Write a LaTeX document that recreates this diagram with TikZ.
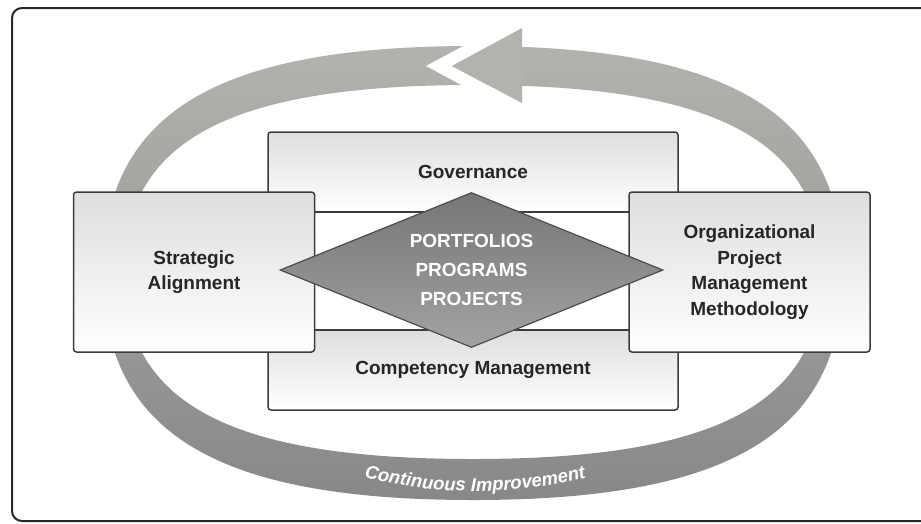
\documentclass[tikz,border=0pt]{standalone}
\usepackage{fontspec}
\setmainfont{Liberation Sans}
\usetikzlibrary{shapes.geometric,decorations.text,positioning}
\definecolor{ringtop}{RGB}{180,178,174}
\definecolor{ringbot}{RGB}{136,136,136}
\definecolor{framegray}{RGB}{40,40,40}
\definecolor{boxline}{RGB}{60,60,60}
\definecolor{boxtop}{RGB}{222,222,222}
\definecolor{dmdtop}{RGB}{118,118,118}
\definecolor{dmdbot}{RGB}{162,162,162}
\newcommand{\lblfont}{\fontsize{19}{25.5}\selectfont\bfseries}
\newcommand{\dmdfont}{\fontsize{19}{29}\selectfont\bfseries}
\newcommand{\loopfont}{\fontsize{18.5}{18.5}\selectfont\bfseries\itshape}
% boxy loop: centre (#1,#2), half axes #3 and #4
\newcommand{\ringloop}[4]{(#1+#3,#2) .. controls (#1+#3,#2+0.7*#4) and (#1+0.7*#3,#2+#4) .. (#1,#2+#4)
  .. controls (#1-0.7*#3,#2+#4) and (#1-#3,#2+0.7*#4) .. (#1-#3,#2)
  .. controls (#1-#3,#2-0.7*#4) and (#1-0.7*#3,#2-#4) .. (#1,#2-#4)
  .. controls (#1+0.7*#3,#2-#4) and (#1+#3,#2-0.7*#4) .. (#1+#3,#2) -- cycle}
\tikzset{
    framesty/.style={draw=framegray, line width=2pt, rounded corners=10pt},
    ringsty/.style={top color=ringtop, bottom color=ringbot, even odd rule},
    headsty/.style={fill=ringtop},
    gapsty/.style={fill=white},
    panelsty/.style={draw=boxline, line width=1.5pt, rounded corners=3pt, top color=boxtop, bottom color=white,
                     minimum width=410pt, minimum height=80pt, inner sep=0pt, font=\lblfont, text=black!85},
    stripsty/.style={draw=boxline, line width=1.5pt, fill=white, minimum width=410pt, minimum height=118pt},
    sidesty/.style={draw=boxline, line width=1.5pt, rounded corners=3pt, top color=boxtop, bottom color=white,
                    minimum width=241pt, minimum height=160pt, font=\lblfont, text=black!85, align=center},
    dmdsty/.style={diamond, draw=black!70, line width=1.2pt, top color=dmdtop, bottom color=dmdbot,
                   minimum width=383pt, minimum height=155pt, aspect=2.47, inner sep=0pt,
                   font=\dmdfont, text=white, align=center},
}

\begin{document}
\begin{tikzpicture}[x=1pt, y=-1pt]
  \useasboundingbox (0,0) rectangle (921,523);
  \draw[framesty] (12,8) rectangle (940,521);

  % improvement loop
  \shade[ringsty] \ringloop{473}{273}{370}{227} \ringloop{473}{272}{349}{187};
  \fill[gapsty] (426,66) -- (467,44) -- (493,44) -- (452,66) -- (493,88) -- (467,88) -- cycle;
  \fill[headsty] (522,28) -- (452,66) -- (522,103) -- cycle;
  \path[decorate, decoration={text along path, text color=white, text align=center,
        text={|\loopfont|Continuous Improvement}}]
        (330,468) .. controls (427,499) and (523,499) .. (620,468);

  % centre stack
  \node[panelsty] (gov) at (473,172) {Governance};
  \node[stripsty, below=-1.5pt of gov] (strip) {};
  \node[panelsty, below=-1.5pt of strip] (comp) {Competency Management};

  \node[sidesty] (align) at (194,272) {Strategic\\Alignment};
  \node[sidesty] (method) at (749.5,272) {Organizational\\Project\\Management\\Methodology};

  \node[dmdsty] (ppp) at (471.5,270) {PORTFOLIOS\\PROGRAMS\\PROJECTS};
\end{tikzpicture}
\end{document}
